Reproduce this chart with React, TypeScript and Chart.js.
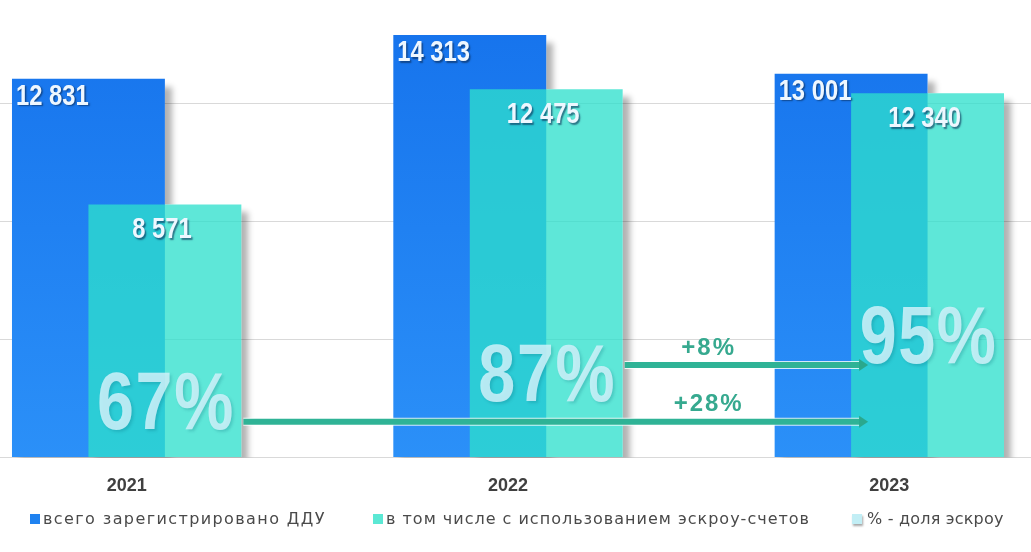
import React, { useEffect, useRef } from "react";
import { Chart, registerables } from "chart.js";

Chart.register(...registerables);

// ---------- data ----------
const years = ["2021", "2022", "2023"];
const totalDDU = [12831, 14313, 13001];
const escrowDDU = [8571, 12475, 12340];
const seriesNames = [
  "всего зарегистрировано ДДУ",
  "в том числе с использованием эскроу-счетов",
  "% - доля эскроу",
];
// value level (in axis units) at which each big % label is centred
const pctLabelLevels = [1734, 2652, 3944];
// comparisons drawn as arrows: [fromYearIndex, toYearIndex]
const arrowPairs = [
  [0, 2],
  [1, 2],
];
const arrowLevels = [1207, 3127];
const yTicks = [0, 4000, 8000, 12000];
const yMax = 15500;

// ---------- helpers ----------
const fmt = (n: number) => String(n).replace(/\B(?=(\d{3})+(?!\d))/g, " ");
const pcts = escrowDDU.map((v, i) => Math.round((v / totalDDU[i]) * 100));

function barRect(el: any) {
  const p = el.getProps(["x", "y", "base", "width"], true);
  return {
    l: p.x - p.width / 2,
    r: p.x + p.width / 2,
    t: Math.min(p.y, p.base),
    b: Math.max(p.y, p.base),
    cx: p.x,
  };
}

function narrowText(
  ctx: CanvasRenderingContext2D,
  text: string,
  x: number,
  y: number,
  align: CanvasTextAlign,
  sx = 0.82
) {
  ctx.save();
  ctx.translate(x, y);
  ctx.scale(sx, 1);
  ctx.textAlign = align;
  ctx.fillText(text, 0, 0);
  ctx.restore();
}

const decorPlugin = {
  id: "decor",
  beforeDatasetsDraw(chart: any) {
    const ctx = chart.ctx as CanvasRenderingContext2D;
    const ca = chart.chartArea;
    const rects = [0, 1].flatMap((i) => chart.getDatasetMeta(i).data.map(barRect));
    ctx.save();
    ctx.beginPath();
    ctx.rect(ca.left, ca.top, ca.right - ca.left, ca.bottom - ca.top);
    ctx.clip();
    rects.forEach((r) => {
      ctx.beginPath();
      ctx.rect(-5000, -5000, 12000, 12000);
      ctx.rect(r.l, r.t, r.r - r.l, r.b - r.t);
      ctx.clip("evenodd");
    });
    const OFF = 4000;
    ctx.shadowColor = "rgba(0,0,0,0.30)";
    ctx.shadowBlur = 6;
    ctx.shadowOffsetX = 7 + OFF;
    ctx.shadowOffsetY = 8;
    ctx.fillStyle = "#000";
    rects.forEach((r) => ctx.fillRect(r.l - OFF, r.t, r.r - r.l, r.b - r.t));
    ctx.restore();
  },
  beforeDatasetDraw(_chart: any, args: any) {
    if (args.index === 1) return false; // drawn on top later
  },
  afterDatasetsDraw(chart: any) {
    const ctx = chart.ctx as CanvasRenderingContext2D;
    const ca = chart.chartArea;
    const yScale = chart.scales.y;
    const meta1 = chart.getDatasetMeta(1);
    // escrow bars on top of total bars
    ctx.save();
    ctx.beginPath();
    ctx.rect(ca.left, ca.top, ca.right - ca.left, ca.bottom - ca.top);
    ctx.clip();
    meta1.data.forEach((el: any) => el.draw(ctx));
    ctx.restore();

    const blue = chart.getDatasetMeta(0).data.map(barRect);
    const turq = meta1.data.map(barRect);

    // value labels
    ctx.save();
    ctx.font = "bold 29px 'Liberation Sans', sans-serif";
    ctx.textBaseline = "middle";
    ctx.shadowColor = "rgba(10,40,80,0.6)";
    ctx.shadowOffsetX = 1.5;
    ctx.shadowOffsetY = 1.5;
    ctx.shadowBlur = 1.5;
    ctx.fillStyle = "#eef7ff";
    blue.forEach((r: any, i: number) => {
      narrowText(ctx, fmt(totalDDU[i]), r.l + 4, r.t + 18, "left");
    });
    turq.forEach((r: any, i: number) => {
      narrowText(ctx, fmt(escrowDDU[i]), r.cx - 3, r.t + 26, "center");
    });
    ctx.restore();

    // big percentage labels
    ctx.save();
    ctx.font = "bold 81px 'Liberation Sans', sans-serif";
    (ctx as any).letterSpacing = "2px";
    ctx.textBaseline = "middle";
    ctx.shadowColor = "rgba(0,90,110,0.25)";
    ctx.shadowOffsetX = 2;
    ctx.shadowOffsetY = 2;
    ctx.shadowBlur = 3;
    ctx.fillStyle = "rgba(208,242,250,0.85)";
    turq.forEach((r: any, i: number) => {
      narrowText(ctx, pcts[i] + "%", r.cx + 1, yScale.getPixelForValue(pctLabelLevels[i]), "center");
    });
    ctx.restore();

    // arrows
    arrowPairs.forEach(([a, b], k) => {
      const y = yScale.getPixelForValue(arrowLevels[k]);
      const x0 = turq[a].r + 2;
      const x1 = turq[b].l + 17;
      const head = 9;
      ctx.save();
      ctx.strokeStyle = "rgba(255,255,255,0.8)";
      ctx.lineWidth = 8;
      ctx.beginPath();
      ctx.moveTo(x0, y);
      ctx.lineTo(x1 - head, y);
      ctx.stroke();
      ctx.strokeStyle = "#2fb396";
      ctx.lineWidth = 6;
      ctx.beginPath();
      ctx.moveTo(x0, y);
      ctx.lineTo(x1 - head + 1, y);
      ctx.stroke();
      ctx.fillStyle = "#2aa88d";
      ctx.beginPath();
      ctx.moveTo(x1, y);
      ctx.lineTo(x1 - head, y - 6);
      ctx.lineTo(x1 - head, y + 6);
      ctx.closePath();
      ctx.fill();
      const lx = (turq[1].r + blue[2].l) / 2 + 10;
      ctx.font = "bold 24px 'Liberation Sans', sans-serif";
      (ctx as any).letterSpacing = "2px";
      ctx.textAlign = "center";
      ctx.textBaseline = "middle";
      ctx.fillStyle = "#36a98f";
      ctx.fillText("+" + (pcts[b] - pcts[a]) + "%", lx, y - 17);
      ctx.restore();
    });
  },
};

export default function App() {
  const ref = useRef<HTMLCanvasElement>(null);

  useEffect(() => {
    const canvas = ref.current!;
    const chart = new Chart(canvas, {
      type: "bar",
      data: {
        labels: years,
        datasets: [
          {
            label: seriesNames[0],
            data: totalDDU,
            backgroundColor: (c: any) => {
              const ca = c.chart.chartArea;
              if (!ca) return "#1f80f0";
              const g = c.chart.ctx.createLinearGradient(0, ca.top, 0, ca.bottom);
              g.addColorStop(0, "#1572ec");
              g.addColorStop(1, "#2b90f8");
              return g;
            },
            borderWidth: 0,
            categoryPercentage: 0.401,
            barPercentage: 2.0,
          },
          {
            label: seriesNames[1],
            data: escrowDDU,
            backgroundColor: "rgba(46,224,204,0.77)",
            borderWidth: 0,
            categoryPercentage: 0.401,
            barPercentage: 2.0,
          },
        ],
      },
      options: {
        responsive: false,
        animation: false,
        layout: { padding: 0 },
        plugins: {
          legend: { display: false },
          tooltip: { enabled: false },
        },
        scales: {
          x: {
            grid: { display: false, drawTicks: false },
            border: { display: false },
            ticks: {
              padding: 18,
              color: "#404040",
              font: { family: "'Liberation Sans', sans-serif", size: 18, weight: "bold" },
            },
          },
          y: {
            min: 0,
            max: yMax,
            bounds: "data",
            afterBuildTicks: (axis: any) => {
              axis.ticks = yTicks.map((v) => ({ value: v }));
            },
            grid: { color: "#d9d9d9", lineWidth: 1, drawTicks: false },
            border: { display: false },
            ticks: { display: false },
          },
        },
      },
      plugins: [decorPlugin],
    } as any);
    return () => chart.destroy();
  }, []);

  const legendColors = ["#1f82f0", "#5be8d4", "#c2eef5"];
  const legendLeft = [30, 373, 852];
  const legendSpacing = ["1.4px", "1px", "0.2px"];

  return (
    <div
      style={{
        position: "absolute",
        left: 0,
        top: 0,
        width: 1031,
        height: 552,
        overflow: "hidden",
        background: "#ffffff",
      }}
    >
      <canvas
        ref={ref}
        width={1144}
        height={515}
        style={{ position: "absolute", left: -64, top: 0, width: 1144, height: 515 }}
      />
      {seriesNames.map((name, i) => (
        <div
          key={name}
          style={{
            position: "absolute",
            left: legendLeft[i],
            top: 511,
            display: "flex",
            alignItems: "center",
            whiteSpace: "nowrap",
            fontFamily: "'DejaVu Sans', sans-serif",
            fontSize: 16,
            lineHeight: "16px",
            letterSpacing: legendSpacing[i],
            color: "#4a4a4a",
          }}
        >
          <span
            style={{
              display: "inline-block",
              width: 10,
              height: 10,
              background: legendColors[i],
              marginRight: i === 2 ? 5 : 3,
              boxShadow: i === 2 ? "1px 2px 2px rgba(0,0,0,0.35)" : "none",
            }}
          />
          <span>{name}</span>
        </div>
      ))}
    </div>
  );
}
